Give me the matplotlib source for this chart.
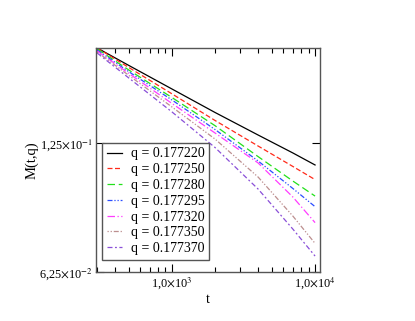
import numpy as np
import matplotlib
matplotlib.use("Agg")
import matplotlib.pyplot as plt
from matplotlib.ticker import FixedLocator, FixedFormatter, LogLocator, NullFormatter, NullLocator

plt.rcParams['font.family'] = ['Liberation Serif', 'DejaVu Serif']
plt.rcParams['mathtext.fontset'] = 'stix'

####### data ###############################################
t = [300, 500, 1000, 2000, 4000, 7000, 10000]

labels = ["q = 0.177220", "q = 0.177250", "q = 0.177280", "q = 0.177295",
          "q = 0.177320", "q = 0.177350", "q = 0.177370"]

m_177220 = [0.2083, 0.1896, 0.1671, 0.1473, 0.1305, 0.1185, 0.1111]
m_177250 = [0.2083, 0.1875, 0.1628, 0.1411, 0.1230, 0.1102, 0.1027]
m_177280 = [0.2072, 0.1850, 0.1596, 0.1372, 0.1162, 0.1019, 0.0940]
m_177295 = [0.2060, 0.1833, 0.1575, 0.1344, 0.1135, 0.0979, 0.0888]
m_177320 = [0.2049, 0.1816, 0.1546, 0.1319, 0.1123, 0.0935, 0.0815]
m_177350 = [0.2038, 0.1797, 0.1517, 0.1277, 0.1041, 0.0844, 0.0729]
m_177370 = [0.2027, 0.1772, 0.1477, 0.1220, 0.0976, 0.0787, 0.0681]

series = [m_177220, m_177250, m_177280, m_177295, m_177320, m_177350, m_177370]
colors = ['black', '#ff2a1a', '#22e01a', '#2a4dff', '#ff3cff', '#bc8f8f', '#8a4fd8']
styles = ['-', (0, (4, 2)), (0, (6, 3)), (0, (4, 1.5, 1, 1.5, 1, 1.5)),
          (0, (6, 2, 1, 2)), (0, (1, 1.5, 1, 1.5, 4, 1.5)), (0, (4, 2, 1.5, 2))]

# ################# PLOT ############################################
fig = plt.figure(figsize=(4.15, 3.21), dpi=100)
ax = fig.add_axes([0.2313, 0.1526, 0.5398, 0.6978])

for m, lab, c, ls in zip(series, labels, colors, styles):
    ax.plot(t, m, color=c, linestyle=ls, linewidth=0.9, label=lab)

ax.set_xscale('log')
ax.set_yscale('log')
ax.set_xlim(294, 10830)
ax.set_ylim(0.0625, 0.2083)

ax.xaxis.set_major_locator(FixedLocator([1000, 10000]))
ax.xaxis.set_major_formatter(FixedFormatter([r"1,0$\times$10$^{3}$", r"1,0$\times$10$^{4}$"]))
ax.xaxis.set_minor_locator(LogLocator(base=10, subs=np.arange(2, 10)))
ax.xaxis.set_minor_formatter(NullFormatter())

ax.yaxis.set_major_locator(FixedLocator([0.0625, 0.125]))
ax.yaxis.set_major_formatter(FixedFormatter([r"6,25$\times$10$^{-2}$", r"1,25$\times$10$^{-1}$"]))
ax.yaxis.set_minor_locator(NullLocator())

ax.tick_params(which='both', direction='in', top=True, right=True, labelsize=8.8, pad=2.5)
ax.tick_params(which='major', length=6, width=0.8)
ax.tick_params(which='minor', length=3.5, width=0.8)

for s in ax.spines.values():
    s.set_color('#555555')
    s.set_linewidth(1.0)

ax.set_xlabel("t", fontsize=10, labelpad=1)
ax.set_ylabel("M(t,q)", fontsize=10.5, labelpad=0)

leg = ax.legend(loc='lower left', bbox_to_anchor=(0.027, 0.054), borderaxespad=0,
                fontsize=10, handlelength=1.1, handletextpad=0.6,
                fancybox=False, frameon=True, labelspacing=0.2, borderpad=0.35)
leg.get_frame().set_edgecolor('#555555')
leg.get_frame().set_linewidth(1.0)
leg.get_frame().set_alpha(1)

fig.savefig('out.png', dpi=100)
